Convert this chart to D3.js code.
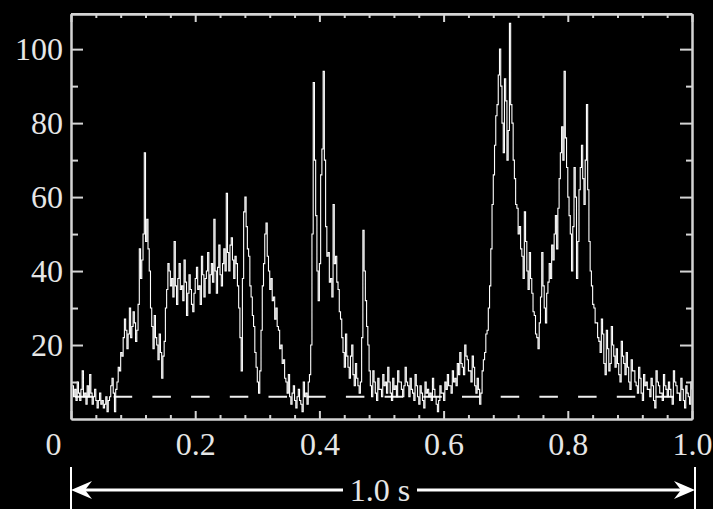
<!DOCTYPE html>
<html>
<head>
<meta charset="utf-8">
<script src="https://cdn.jsdelivr.net/npm/d3@7"></script>
<style>
  html, body { margin: 0; padding: 0; background: #000; }
  svg { display: block; }
  .axis text { font-family: "Liberation Serif", "DejaVu Serif", serif; font-size: 32px; fill: #e6e6e6; }
  .axis line, .axis path { stroke: #d4d4d4; stroke-width: 2; }
</style>
</head>
<body>
<div id="chart"></div>
<script>
// Light curve: counts per 2 ms bin
const binWidth = 0.002;
const counts = [
  9, 6, 8, 5, 10, 7, 5, 8, 13, 6, 7, 4, 9, 6, 12, 7,
  4, 6, 8, 5, 3, 5, 7, 4, 5, 3, 4, 6, 2, 5, 6, 9,
  11, 7, 2, 8, 10, 14, 13, 18, 17, 22, 27, 24, 19, 23, 30, 22,
  25, 29, 26, 21, 24, 31, 46, 38, 43, 50, 72, 48, 54, 46, 40, 30,
  25, 19, 28, 22, 20, 16, 23, 18, 11, 17, 21, 30, 35, 42, 40, 36,
  38, 33, 48, 36, 31, 38, 42, 35, 36, 32, 43, 37, 28, 34, 39, 35,
  31, 29, 34, 38, 41, 35, 36, 31, 44, 39, 33, 38, 40, 45, 34, 39,
  42, 37, 54, 40, 34, 41, 47, 39, 36, 42, 46, 40, 61, 45, 40, 47,
  49, 43, 38, 44, 42, 36, 30, 22, 13, 38, 56, 60, 52, 46, 44, 36,
  33, 28, 25, 18, 14, 10, 7, 13, 24, 36, 42, 50, 53, 44, 40, 35,
  38, 32, 33, 27, 30, 25, 24, 19, 20, 15, 16, 11, 10, 7, 12, 6,
  4, 7, 9, 5, 3, 6, 8, 5, 4, 2, 10, 6, 7, 4, 10, 12,
  20, 50, 91, 70, 55, 40, 32, 42, 66, 73, 94, 70, 52, 44, 45, 37,
  38, 33, 58, 42, 44, 37, 35, 29, 27, 22, 18, 14, 23, 17, 14, 11,
  17, 20, 12, 9, 15, 11, 9, 7, 10, 22, 51, 40, 32, 25, 20, 13,
  9, 6, 13, 10, 7, 5, 11, 8, 8, 6, 12, 9, 10, 7, 14, 10,
  7, 5, 11, 8, 9, 6, 13, 10, 10, 8, 6, 9, 14, 10, 9, 6,
  11, 8, 7, 5, 12, 9, 6, 4, 9, 7, 5, 3, 10, 7, 8, 6,
  7, 5, 11, 8, 6, 4, 2, 5, 9, 7, 7, 5, 10, 8, 12, 9,
  9, 7, 13, 10, 11, 9, 15, 12, 18, 15, 14, 12, 20, 17, 16, 13,
  13, 10, 17, 14, 9, 7, 11, 8, 4, 7, 13, 16, 18, 23, 24, 30,
  36, 46, 58, 66, 74, 82, 85, 93, 100, 90, 80, 72, 92, 86, 70, 78,
  107, 85, 80, 70, 65, 58, 57, 50, 52, 46, 44, 38, 56, 48, 40, 35,
  45, 38, 34, 29, 28, 23, 22, 19, 26, 33, 45, 36, 30, 26, 34, 37,
  42, 38, 47, 43, 50, 55, 46, 57, 65, 72, 79, 70, 94, 76, 68, 60,
  55, 50, 40, 52, 68, 60, 38, 48, 62, 68, 74, 65, 58, 70, 85, 62,
  48, 40, 36, 31, 30, 26, 26, 22, 21, 18, 27, 23, 15, 12, 24, 19,
  13, 15, 25, 20, 17, 14, 19, 15, 12, 10, 21, 17, 15, 12, 18, 14,
  10, 8, 16, 13, 13, 10, 9, 7, 14, 11, 7, 5, 12, 9, 10, 8,
  8, 6, 11, 9, 5, 3, 13, 10, 9, 7, 7, 5, 12, 9, 8, 6,
  10, 8, 6, 4, 13, 10, 9, 7, 7, 5, 11, 8, 5, 3, 9, 7,
  6, 4, 10, 8
];
const background = 6;
const yMajorTicks = [20, 40, 60, 80, 100];
const yMinorTicks = [10, 30, 50, 70, 90];
const xMajorTicks = [0, 0.2, 0.4, 0.6, 0.8, 1.0];
const xMinorTicks = [0.04, 0.08, 0.12, 0.16, 0.24, 0.28, 0.32, 0.36, 0.44, 0.48, 0.52, 0.56,
                     0.64, 0.68, 0.72, 0.76, 0.84, 0.88, 0.92, 0.96];
const spanLabel = '1.0 s';

const data = counts.map((c, i) => ({ t: i * binWidth + 0.002, c: c }));

const totalWidth = 713, totalHeight = 509;
const margin = { top: 14, right: 21, bottom: 90, left: 71 };
const width = totalWidth - margin.left - margin.right;
const height = totalHeight - margin.top - margin.bottom;

const root = d3.select('#chart').append('svg')
    .attr('width', totalWidth)
    .attr('height', totalHeight)
    .style('background', '#000');

const svg = root.append('g')
    .attr('transform', `translate(${margin.left},${margin.top})`);

const x = d3.scaleLinear().domain([0, 1]).range([0, width]);
const y = d3.scaleLinear().domain([0, 109.5]).range([height, 0]);

// background level
svg.append('line')
    .attr('x1', x(0)).attr('x2', x(1))
    .attr('y1', y(background)).attr('y2', y(background))
    .style('stroke', '#f0f0f0')
    .style('stroke-width', 2)
    .style('stroke-dasharray', '18.5,20.2')
    .style('stroke-dashoffset', -4);

// light curve
const line = d3.line()
    .x(d => x(d.t))
    .y(d => y(d.c))
    .curve(d3.curveStepAfter);

svg.append('path')
    .datum(data)
    .attr('d', line)
    .style('fill', 'none')
    .style('stroke', '#fff')
    .style('stroke-width', 1.1);

// axes, ticks pointing inward
function addAxis(axis, transform, labels) {
    const g = svg.append('g').attr('class', 'axis').attr('transform', transform).call(axis);
    if (!labels) g.selectAll('text').remove();
    return g;
}

const bottomMajor = addAxis(d3.axisBottom(x).tickValues(xMajorTicks).tickSize(-8).tickSizeOuter(0)
    .tickPadding(13).tickFormat(d3.format('.1f')), `translate(0,${height})`, true);
bottomMajor.selectAll('text').text(d => d === 0 ? '0' : d3.format('.1f')(d))
    .attr('dx', d => d === 0 ? -18 : 0);
addAxis(d3.axisBottom(x).tickValues(xMinorTicks).tickSize(-4).tickSizeOuter(0), `translate(0,${height})`, false);

addAxis(d3.axisTop(x).tickValues(xMajorTicks).tickSize(-8).tickSizeOuter(0), 'translate(0,0)', false);
addAxis(d3.axisTop(x).tickValues(xMinorTicks).tickSize(-4).tickSizeOuter(0), 'translate(0,0)', false);

addAxis(d3.axisLeft(y).tickValues(yMajorTicks).tickSize(-12).tickSizeOuter(0).tickPadding(8), 'translate(0,0)', true);
addAxis(d3.axisLeft(y).tickValues(yMinorTicks).tickSize(-7).tickSizeOuter(0), 'translate(0,0)', false);

addAxis(d3.axisRight(y).tickValues(yMajorTicks).tickSize(-12).tickSizeOuter(0), `translate(${width},0)`, false);
addAxis(d3.axisRight(y).tickValues(yMinorTicks).tickSize(-6).tickSizeOuter(0), `translate(${width},0)`, false);

// closing frame edge on top
svg.append('line').attr('x1', 0).attr('x2', width).attr('y1', 0).attr('y2', 0)
    .style('stroke', '#d4d4d4').style('stroke-width', 2);

// duration bar under the plot
const span = svg.append('g').attr('transform', `translate(0,${height + 71})`);
const x0 = x(0), x1 = x(1) + 3;
const textX = (x0 + x1) / 2 - 3;

span.append('line').attr('x1', x0).attr('x2', x0).attr('y1', -23).attr('y2', 25)
    .style('stroke', '#fff').style('stroke-width', 2);
span.append('line').attr('x1', x1).attr('x2', x1).attr('y1', -23).attr('y2', 25)
    .style('stroke', '#fff').style('stroke-width', 2);

span.append('line').attr('x1', x0 + 10).attr('x2', textX - 37).attr('y1', 0).attr('y2', 0)
    .style('stroke', '#fff').style('stroke-width', 3);
span.append('line').attr('x1', textX + 37).attr('x2', x1 - 10).attr('y1', 0).attr('y2', 0)
    .style('stroke', '#fff').style('stroke-width', 3);

span.append('path')
    .attr('d', `M${x0},0 L${x0 + 21},-9 L${x0 + 14},0 L${x0 + 21},9 Z`)
    .style('fill', '#fff');
span.append('path')
    .attr('d', `M${x1},0 L${x1 - 21},-9 L${x1 - 14},0 L${x1 - 21},9 Z`)
    .style('fill', '#fff');

span.append('text')
    .attr('x', textX)
    .attr('y', 0)
    .attr('dy', '0.34em')
    .attr('text-anchor', 'middle')
    .style('font-family', '"Liberation Serif", "DejaVu Serif", serif')
    .style('font-size', '32px')
    .style('fill', '#e6e6e6')
    .text(spanLabel);
</script>
</body>
</html>
